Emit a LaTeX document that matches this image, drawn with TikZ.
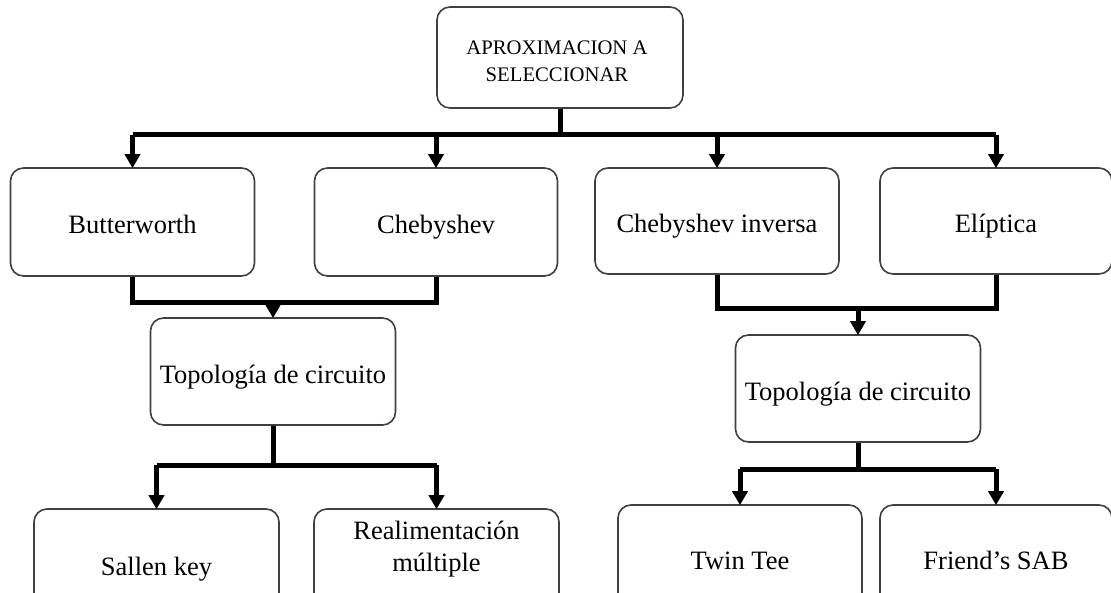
\documentclass[tikz,border=0pt]{standalone}
\usepackage{fontspec}
\setmainfont{Liberation Serif}
\usetikzlibrary{arrows.meta}

\begin{document}
\begin{tikzpicture}[x=1pt,y=-1pt,
  box/.style={draw=black!75, line width=1.6pt, rounded corners=13pt, fill=white,
    align=center, inner sep=0pt, text height=24pt, text depth=0pt,
    font=\fontsize{26.5}{32}\selectfont},
  lbl/.style={anchor=base, inner sep=0pt},
  conn/.style={line width=5pt, line join=miter, black},
  arr/.style={conn, -{Triangle[width=15pt,length=14pt]}, shorten >=-1pt}]
\useasboundingbox (0,0) rectangle (1111,593);
\clip (0,0) rectangle (1111,593);
\fill[white] (0,0) rectangle (1111,593);

% boxes
\node[box, minimum width=246pt, minimum height=101pt] (top) at (560,57.5) {};
\node[lbl, font=\fontsize{20.7}{27}\selectfont] (top1) at (557,55) {APROXIMACION A};
\node[lbl, font=\fontsize{20.7}{27}\selectfont] (top2) at (557,82) {SELECCIONAR};
\node[box, minimum width=244pt, minimum height=108pt] (butter) at (132.5,222) {Butterworth};
\node[box, minimum width=243pt, minimum height=108pt] (cheb) at (436,222) {Chebyshev};
\node[box, minimum width=244pt, minimum height=106pt] (chebinv) at (717,221) {Chebyshev inversa};
\node[box, minimum width=232pt, minimum height=106pt] (elip) at (996,221) {Elíptica};
\node[box, minimum width=245pt, minimum height=107pt] (topoL) at (273,371.5) {Topología de circuito};
\node[box, minimum width=245pt, minimum height=107pt] (topoR) at (858,388.5) {Topología de circuito};
\node[box, minimum width=245pt, minimum height=108pt] (sallen) at (156.5,563) {Sallen key};
\node[box, minimum width=245pt, minimum height=108pt] (realim) at (436.5,563) {};
\node[lbl, font=\fontsize{26.5}{32}\selectfont] (realim1) at (436.5,539) {Realimentación};
\node[lbl, font=\fontsize{26.5}{32}\selectfont] (realim2) at (436.5,571) {múltiple};
\node[box, minimum width=244pt, minimum height=104pt] (twin) at (740,557) {Twin Tee};
\node[box, minimum width=232pt, minimum height=104pt] (friend) at (996,557) {Friend’s SAB};

% junction levels
\coordinate (bus) at (560,135);
\coordinate (jL) at (0,303);
\coordinate (jR) at (0,309);
\coordinate (kL) at (0,465);
\coordinate (kR) at (0,469);

% top level distribution
\draw[conn] (top.south) -- (top.south |- bus);
\draw[conn] (butter.north |- bus) -- (elip.north |- bus);
\draw[arr] (butter.north |- bus) -- (butter.north);
\draw[arr] (cheb.north |- bus) -- (cheb.north);
\draw[arr] (chebinv.north |- bus) -- (chebinv.north);
\draw[arr] (elip.north |- bus) -- (elip.north);

% merge into the circuit topologies
\draw[conn] (butter.south) -- (butter.south |- jL) -- (cheb.south |- jL) -- (cheb.south);
\draw[arr] (topoL.north |- jL) -- (topoL.north);
\draw[conn] (chebinv.south) -- (chebinv.south |- jR) -- (elip.south |- jR) -- (elip.south);
\draw[arr] (topoR.north |- jR) -- (topoR.north);

% circuit topology branches
\draw[conn] (topoL.south) -- (topoL.south |- kL);
\draw[conn] (sallen.north |- kL) -- (realim.north |- kL);
\draw[arr] (sallen.north |- kL) -- (sallen.north);
\draw[arr] (realim.north |- kL) -- (realim.north);
\draw[conn] (topoR.south) -- (topoR.south |- kR);
\draw[conn] (twin.north |- kR) -- (friend.north |- kR);
\draw[arr] (twin.north |- kR) -- (twin.north);
\draw[arr] (friend.north |- kR) -- (friend.north);
\end{tikzpicture}
\end{document}
